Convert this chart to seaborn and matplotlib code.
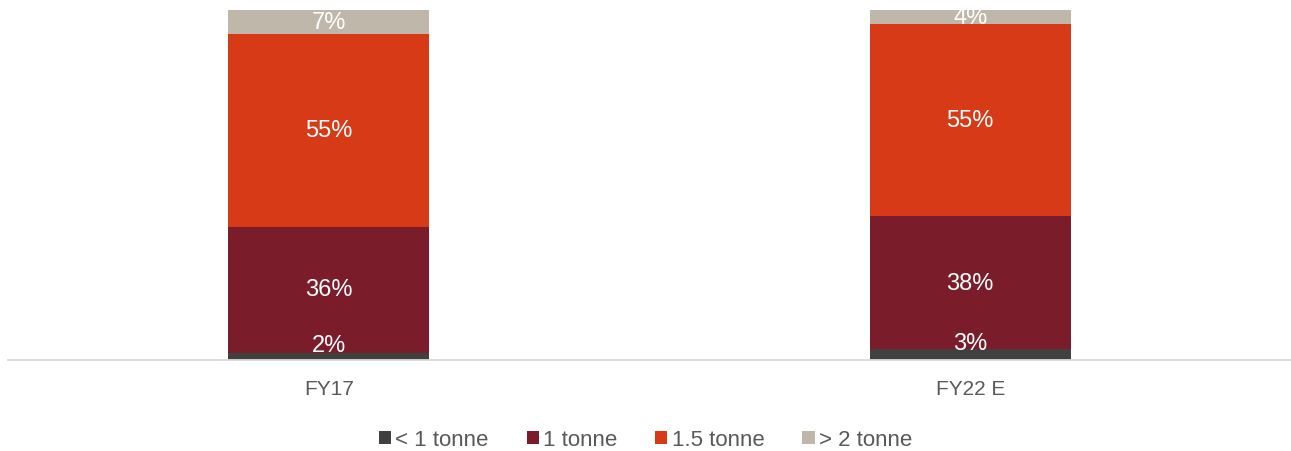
import numpy as np
import pandas as pd
import seaborn as sns
import matplotlib.pyplot as plt
from matplotlib.patches import Patch

# data (share of volume, %)
years = ['FY17', 'FY22 E']
segments = ['< 1 tonne', '1 tonne', '1.5 tonne', '> 2 tonne']
below_1t = [2, 3]
one_t = [36, 38]
one_half_t = [55, 55]
above_2t = [7, 4]
colors = ['#404040', '#7B1C2A', '#D63A16', '#BFB8AA']

sns.set_theme(style='white')
plt.rcParams['font.family'] = ['Liberation Sans', 'DejaVu Sans']

vals = np.array([below_1t, one_t, one_half_t, above_2t], dtype=float)
cum = np.cumsum(vals, axis=0)

fig = plt.figure(figsize=(12.91, 4.52), dpi=100)
ax = fig.add_axes([8 / 1291, (452 - 360.5) / 452, 1283 / 1291, 350 / 452])

# draw stacked bars back to front: tallest cumulative first
for i in range(len(segments) - 1, -1, -1):
    df = pd.DataFrame({'year': years, 'total': cum[i]})
    sns.barplot(data=df, x='year', y='total', color=colors[i], saturation=1,
                width=0.314, linewidth=0, ax=ax)

# data labels
for j in range(len(years)):
    for i in range(len(segments)):
        bottom = cum[i, j] - vals[i, j]
        mid = bottom + vals[i, j] / 2
        dy = 8 if i == 0 else 0
        ax.annotate(f'{int(vals[i, j])}%', (j, mid), xytext=(0, dy),
                    textcoords='offset points', ha='center', va='center',
                    color='white', fontsize=17)

ax.set_ylim(0, 100)
ax.set_xlim(-0.5, 1.5)
ax.set_xlabel('')
ax.set_ylabel('')
ax.set_yticks([])
for s in ['top', 'right', 'left']:
    ax.spines[s].set_visible(False)
ax.spines['bottom'].set_color('#D9D9D9')
ax.spines['bottom'].set_linewidth(1.3)
ax.tick_params(axis='x', length=0, pad=14, labelsize=15, labelcolor='#595959')

handles = [Patch(facecolor=c, edgecolor='none') for c in colors]
fig.legend(handles, segments, loc='center', bbox_to_anchor=(0.5, 1 - 441 / 452),
           ncol=4, frameon=False, fontsize=16, labelcolor='#595959',
           handlelength=0.55, handleheight=0.55, handletextpad=0.2, columnspacing=1.7)

fig.savefig('out.png', dpi=100)
